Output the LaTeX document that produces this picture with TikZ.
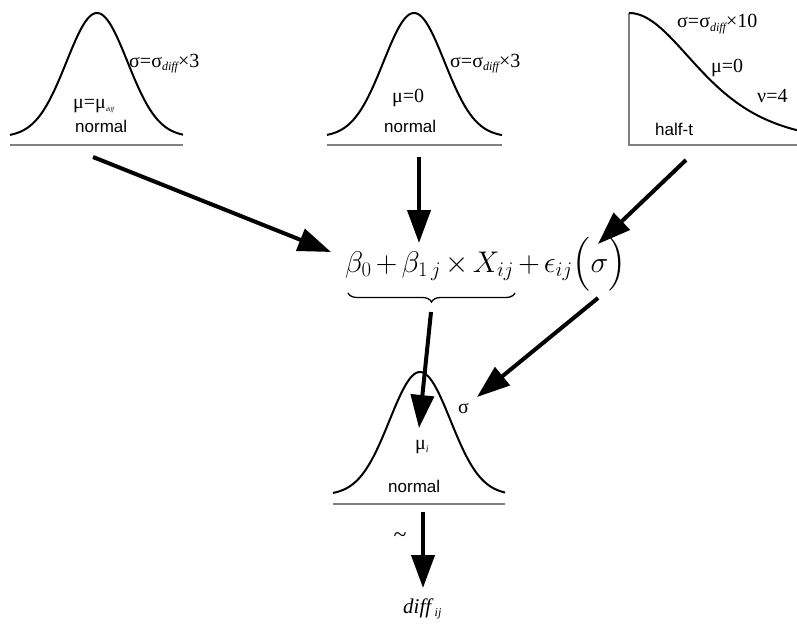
\documentclass[tikz,border=0pt]{standalone}
\usepackage{amsmath}
\usepackage{graphicx}
\usepackage{fontspec}
\setmainfont{Liberation Serif}
\newfontfamily\sansf{Liberation Sans}
\usetikzlibrary{arrows.meta,decorations.pathreplacing}
\newcommand\dsub[2][12]{\raisebox{-0.4ex}{\fontsize{#1}{#1}\selectfont\itshape #2}}
\tikzset{
  curve/.style={line width=2pt, line join=round},
  baseln/.style={line width=1.8pt, gray},
  arr/.style={line width=4pt, -{Triangle[length=33pt,width=23pt]}},
  lbl/.style={anchor=base west, inner sep=0pt, font=\fontsize{20}{22}\selectfont},
  dname/.style={anchor=base west, inner sep=0pt, font=\sansf\fontsize{17}{19}\selectfont},
  bracestyle/.style={line width=1.3pt, decorate, decoration={brace, amplitude=9pt, mirror}},
}
\begin{document}
\begin{tikzpicture}[x=1pt,y=-1pt]
\useasboundingbox (0,0) rectangle (797,634);
% --- top left normal
\draw[curve] plot[domain=10:183,samples=90] (\x,{137-124*exp(-((\x-97)^2)/1860.5)});
\draw[baseln] (10,145) -- (183,145);
\node[lbl] (s1) at (129,67) {σ=σ\dsub{diff}×3};
\node[lbl] (m1) at (73,108) {μ=μ\dsub[6]{diff}};
\node[dname] (n1) at (75,132) {normal};
% --- top middle normal
\draw[curve] plot[domain=327:502,samples=90] (\x,{137-124*exp(-((\x-414)^2)/1860.5)});
\draw[baseln] (327,145) -- (502,145);
\node[lbl] (s2) at (450,67) {σ=σ\dsub{diff}×3};
\node[lbl] (m2) at (392,102) {μ=0};
\node[dname] (n2) at (384,132) {normal};
% --- half-t
\draw[baseln] (629,13) -- (629,145) -- (797,145);
\draw[curve] plot[domain=629:797,samples=90] (\x,{145-132*exp(-2.5*ln(1+((\x-629)/71)^2/4))});
\node[lbl] (s3) at (677,28) {σ=σ\dsub{diff}×10};
\node[lbl] (m3) at (711,73) {μ=0};
\node[lbl] (v3) at (757,102) {ν=4};
\node[dname] (n3) at (655,135) {half-t};
% --- formula
\node[anchor=base west, inner sep=0pt] (f) at (345,272)
  {\scalebox{1.2}{\fontsize{24}{28}\selectfont \medmuskip=2.5mu $\beta_0+\beta_{1\,j}\times X_{ij}+\epsilon_{ij}\Big(\sigma\Big)$}};
\draw[bracestyle] (348,293) -- (515,293);
\coordinate (brace) at (431,312);
% --- bottom normal
\draw[curve] plot[domain=333:505,samples=90] (\x,{495-123*exp(-((\x-420)^2)/1860.5)});
\draw[baseln] (333,504) -- (505,504);
\node[lbl] (s4) at (458,413) {σ};
\node[lbl] (m4) at (415,449) {μ\dsub[10]{i}};
\node[dname] (n4) at (388,492) {normal};
\node[lbl, anchor=center] (tl) at (400,538) {\fontsize{24}{24}\selectfont \textasciitilde};
\node[lbl] (d) at (403,613) {\fontsize{21}{22}\selectfont\itshape diff\,\dsub[12]{ij}};
% --- arrow end points
\coordinate (a1s) at (93,157);  \coordinate (a1e) at (331,252);
\coordinate (a2s) at (419,157); \coordinate (a2e) at (419,243);
\coordinate (a3s) at (686,160); \coordinate (a3e) at (598,244);
\coordinate (a4e) at (419,428);
\coordinate (a5s) at (598,298); \coordinate (a5e) at (477,397);
\coordinate (a6s) at (423,512); \coordinate (a6e) at (423,588);
\draw[arr] (a1s) -- (a1e);
\draw[arr] (a2s) -- (a2e);
\draw[arr] (a3s) -- (a3e);
\draw[arr] (brace) -- (a4e);
\draw[arr] (a5s) -- (a5e);
\draw[arr] (a6s) -- (a6e);
\end{tikzpicture}
\end{document}
